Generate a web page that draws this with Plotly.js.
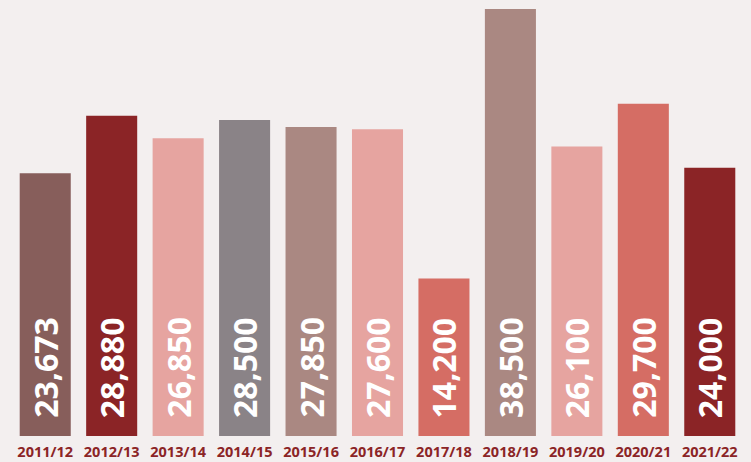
<!DOCTYPE html>
<html>
<head>
<meta charset="utf-8">
<script src="https://cdn.plot.ly/plotly-3.0.1.min.js"></script>
<style>html,body{margin:0;padding:0;background:#F3EFEF;}#chart{width:751px;height:462px;}</style>
</head>
<body>
<div id="chart"></div>
<script>
const years = ["2011/12","2012/13","2013/14","2014/15","2015/16","2016/17","2017/18","2018/19","2019/20","2020/21","2021/22"];
// bar heights
const heights = [23700, 28880, 26850, 28500, 27850, 27650, 14200, 38500, 26100, 29950, 24180];
// value labels printed on the bars
const labels = ["23,673","28,880","26,850","28,500","27,850","27,600","14,200","38,500","26,100","29,700","24,000"];
const barColors = ["#875E5B","#8B2426","#E6A4A0","#8A8387","#AA8882","#E6A4A0","#D56D64","#AA8882","#E6A4A0","#D56D64","#8B2426"];

const annotations = years.map((yr, i) => ({
  x: yr, y: 0, xref: "x", yref: "y",
  text: labels[i], showarrow: false, textangle: -90,
  xanchor: "center", yanchor: "bottom", yshift: 16,
  font: {family: "Open Sans", size: 32, color: "#FFFFFF", weight: "bold"}
}));

Plotly.newPlot("chart", [{
  type: "bar",
  x: years,
  y: heights,
  marker: {color: barColors},
  hoverinfo: "none"
}], {
  width: 751, height: 462,
  margin: {l: 12, r: 8, t: 9, b: 26},
  paper_bgcolor: "#F3EFEF",
  plot_bgcolor: "#F3EFEF",
  bargap: 0.232,
  showlegend: false,
  annotations: annotations,
  xaxis: {
    showgrid: false, zeroline: false, showline: false, ticks: "",
    ticklabelstandoff: 5,
    tickfont: {family: "Open Sans", size: 14.5, color: "#8B2426", weight: "bold"}
  },
  yaxis: {
    range: [0, 38500], visible: false, showgrid: false, zeroline: false
  }
}, {displayModeBar: false, staticPlot: true});
</script>
</body>
</html>
